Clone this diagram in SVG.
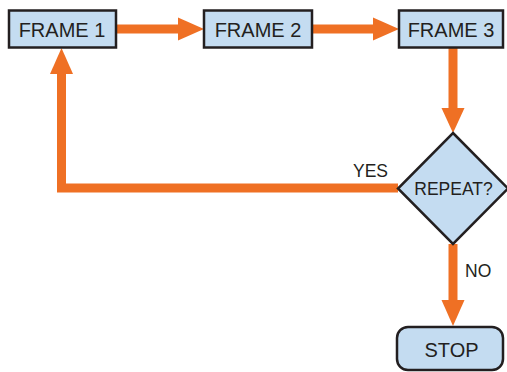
<svg xmlns="http://www.w3.org/2000/svg" width="507" height="372" viewBox="0 0 507 372">
<style>
.box{fill:#c4dcf1;stroke:#231f20;stroke-width:2.5}
.t{font-family:"Liberation Sans",Arial,sans-serif;fill:#231f20;text-anchor:middle}
.big{font-size:20px}
.mid{font-size:17.5px}
.lbl{font-family:"Liberation Sans",Arial,sans-serif;fill:#231f20;font-size:17.5px}
.ln{fill:none;stroke:#ef7024;stroke-width:9}
.hd{fill:#ef7024}
</style>
<rect width="507" height="372" fill="#ffffff"/>
<g id="connectors">
  <line class="ln" x1="116" y1="29" x2="180" y2="29"/>
  <polygon class="hd" points="178,17.5 204,29 178,40.5"/>
  <line class="ln" x1="312" y1="29" x2="375" y2="29"/>
  <polygon class="hd" points="373,17.5 399,29 373,40.5"/>
  <line class="ln" x1="453" y1="48" x2="453" y2="110"/>
  <polygon class="hd" points="441.5,108 464.5,108 453,133"/>
  <polyline class="ln" points="398,188 61.5,188 61.5,72" style="stroke-linejoin:miter"/>
  <polygon class="hd" points="50,74 73,74 61.5,48"/>
  <line class="ln" x1="453" y1="244" x2="453" y2="302"/>
  <polygon class="hd" points="441.5,300 464.5,300 453,326"/>
  <text class="lbl" x="353" y="177">YES</text>
  <text class="lbl" x="465" y="277">NO</text>
</g>
<g id="frame1">
  <rect class="box" x="9" y="10.5" width="107" height="37"/>
  <text class="t big" x="62" y="37">FRAME 1</text>
</g>
<g id="frame2">
  <rect class="box" x="204" y="10.5" width="108" height="37"/>
  <text class="t big" x="258" y="37">FRAME 2</text>
</g>
<g id="frame3">
  <rect class="box" x="399" y="10.5" width="104" height="37"/>
  <text class="t big" x="451" y="37">FRAME 3</text>
</g>
<g id="repeat">
  <polygon class="box" points="453,133 508,188.5 453,244 398,188.5"/>
  <text class="t mid" x="453.5" y="194.5">REPEAT?</text>
</g>
<g id="stop">
  <rect class="box" x="397" y="327" width="106" height="43" rx="11" ry="11"/>
  <text class="t big" x="451.5" y="357">STOP</text>
</g>
</svg>
